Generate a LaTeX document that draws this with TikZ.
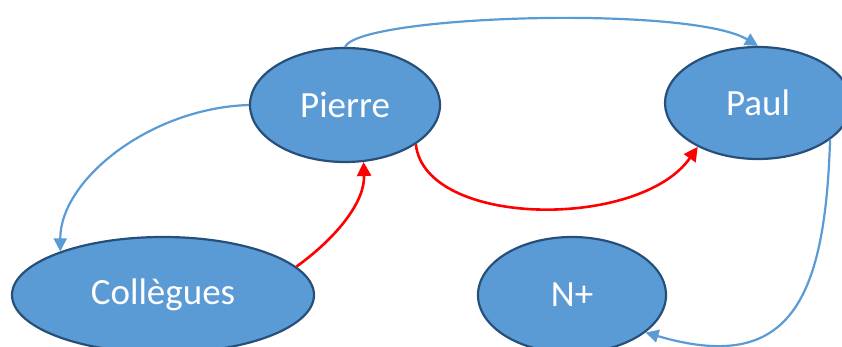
\documentclass[tikz,border=0pt]{standalone}
\usepackage{fontspec}
\setmainfont{Carlito}
\usetikzlibrary{shapes.geometric,arrows.meta}
\definecolor{fillblue}{HTML}{5B9BD5}
\definecolor{edgeblue}{HTML}{264F7A}
\definecolor{lineblue}{HTML}{5B9BD5}
\begin{document}
\begin{tikzpicture}[x=1pt,y=-1pt,
  bubble/.style={ellipse,draw=edgeblue,fill=fillblue,line width=2.2pt,inner sep=0pt,
     text=white,font=\fontsize{37}{40}\selectfont},
  bluearrow/.style={draw=lineblue,line width=2.2pt,-{Triangle[width=13pt,length=13pt]}},
  redarrow/.style={draw=red,line width=2.6pt,-{Triangle[width=14pt,length=14pt]}}]
\useasboundingbox (0,0) rectangle (842,347);
\begin{scope}
\clip (0,0) rectangle (842,347);
\node[bubble,minimum width=190pt,minimum height=114pt] (pierre) at (345,105) {Pierre};
\node[bubble,minimum width=186pt,minimum height=112pt] (paul) at (758,103) {Paul};
\node[bubble,minimum width=302pt,minimum height=116pt] (coll) at (163,295) {Collègues};
\node[bubble,minimum width=188pt,minimum height=116pt] (nplus) at (572,295) {N+};
\draw[bluearrow] (pierre.north) .. controls (360,15) and (690,5) .. (paul.north);
\draw[bluearrow] (pierre.west) .. controls (150,108) and (60,180) .. (coll.157);
\draw[redarrow] (coll.12) .. controls (340,235) and (365,200) .. (pierre.-72);
\draw[redarrow] (pierre.-29) .. controls (425,228) and (640,230) .. (paul.-144);
\draw[bluearrow] (paul.-27) .. controls (825,300) and (790,375) .. (nplus.-27);
\end{scope}
\end{tikzpicture}
\end{document}
